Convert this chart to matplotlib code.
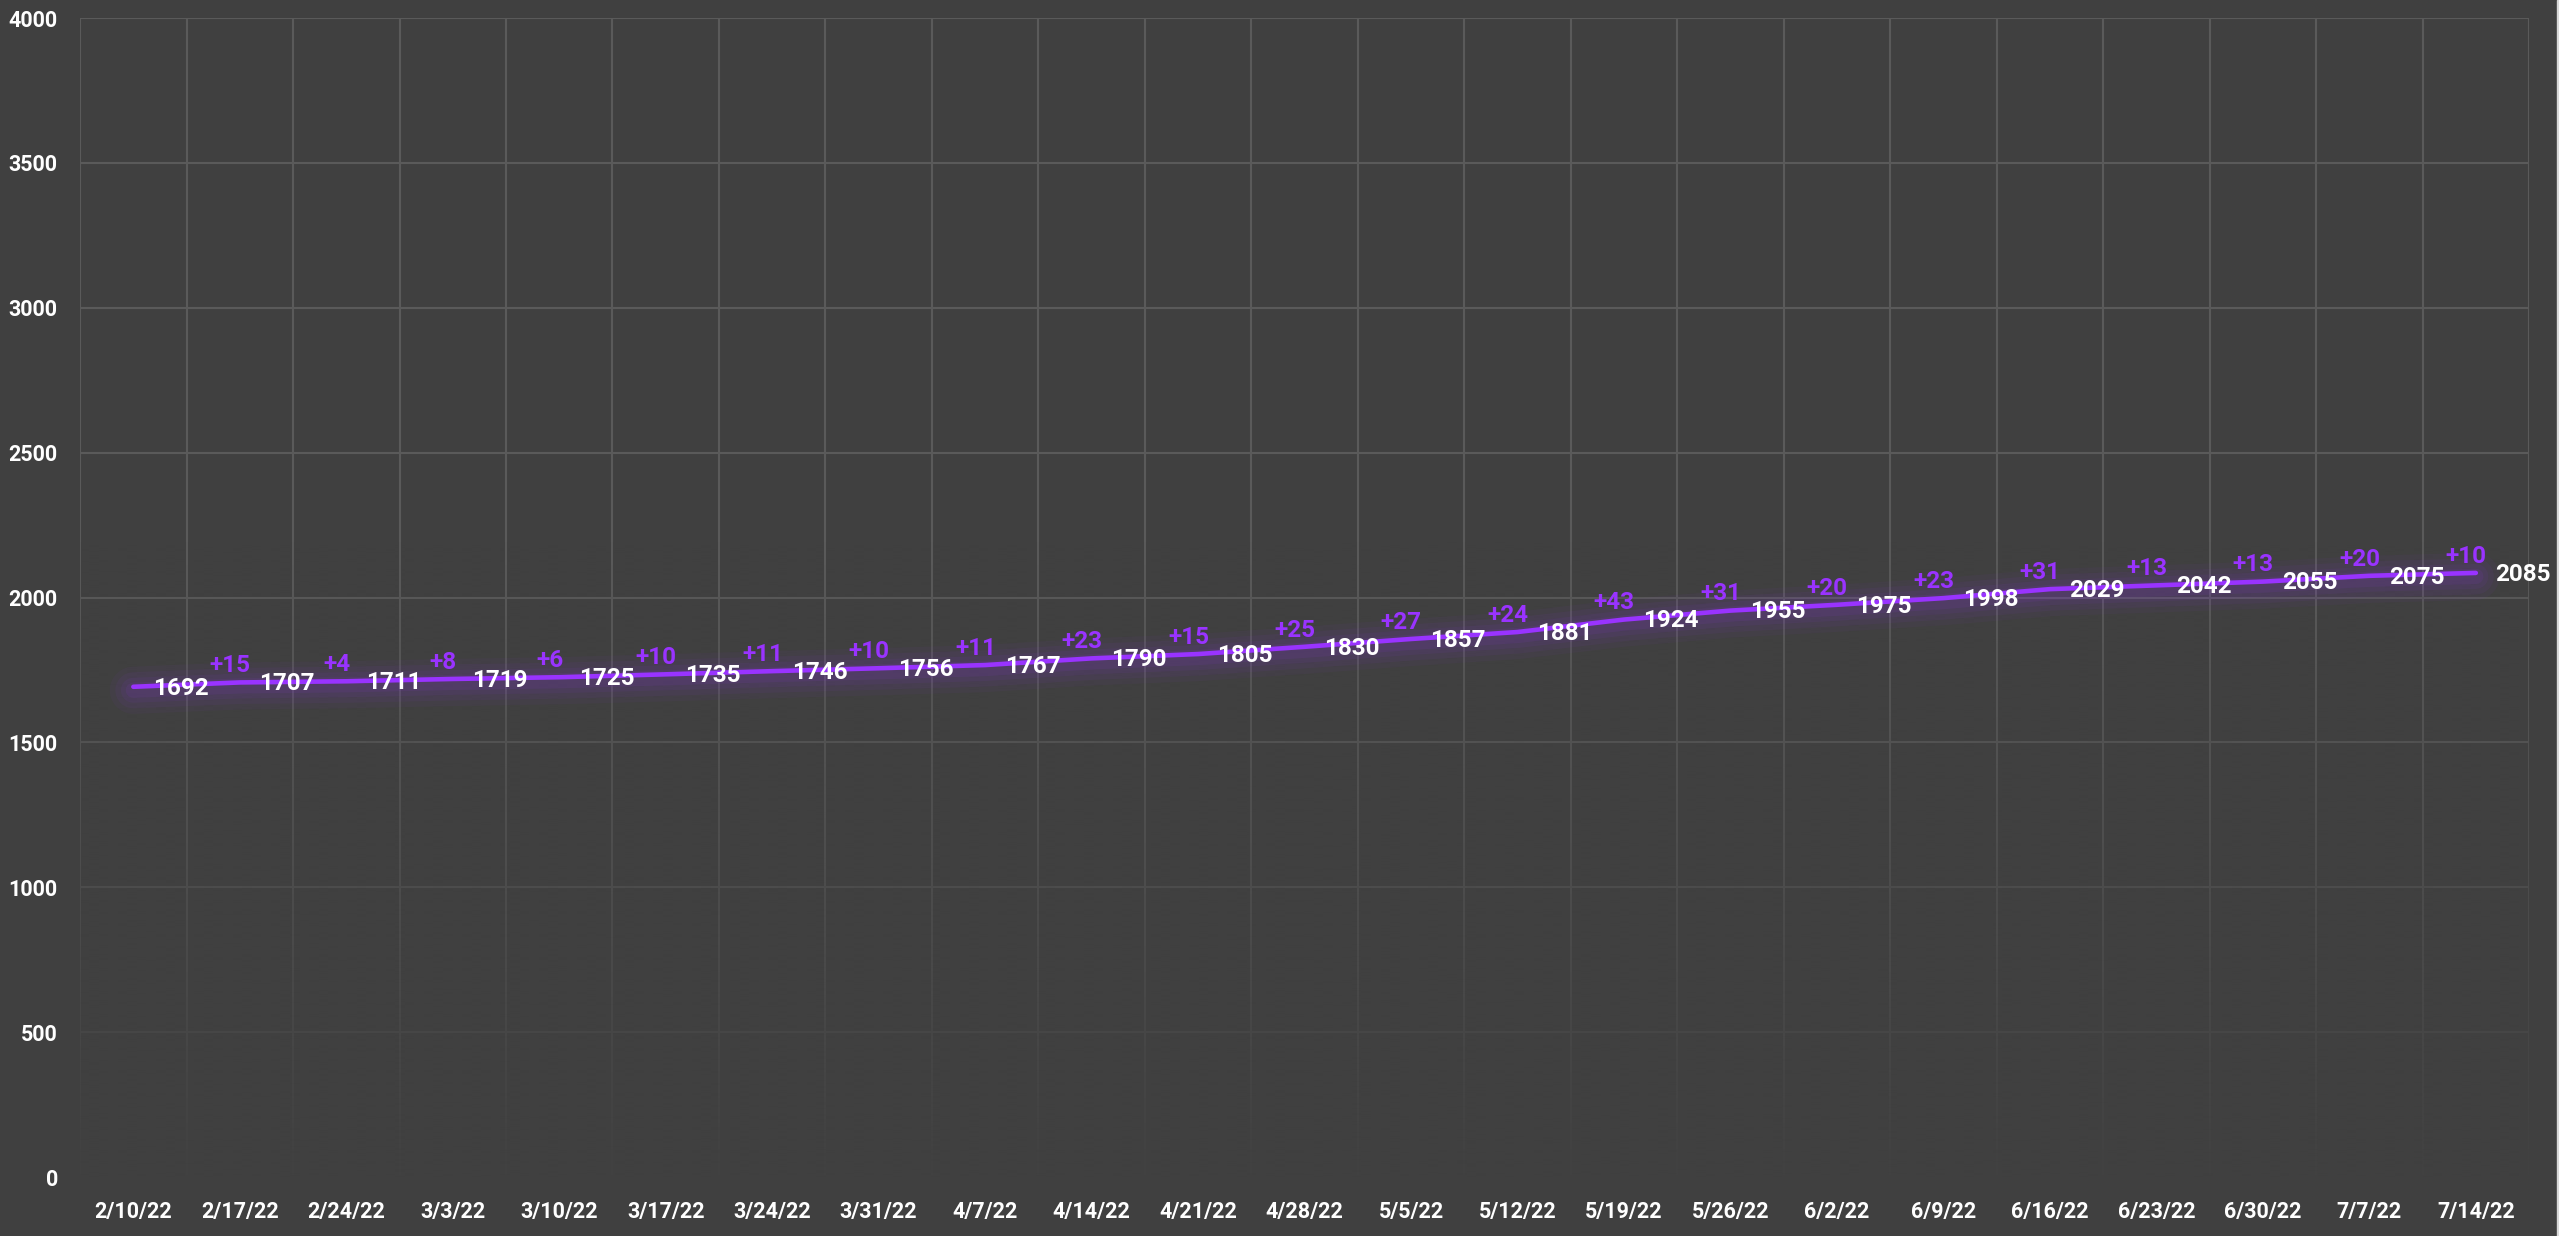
import matplotlib
matplotlib.use("Agg")
import matplotlib.pyplot as plt
from matplotlib.patches import Rectangle
import numpy as np

# data
dates = ["2/10/22", "2/17/22", "2/24/22", "3/3/22", "3/10/22", "3/17/22",
         "3/24/22", "3/31/22", "4/7/22", "4/14/22", "4/21/22", "4/28/22",
         "5/5/22", "5/12/22", "5/19/22", "5/26/22", "6/2/22", "6/9/22",
         "6/16/22", "6/23/22", "6/30/22", "7/7/22", "7/14/22"]
totals = [1692, 1707, 1711, 1719, 1725, 1735, 1746, 1756, 1767, 1790, 1805,
          1830, 1857, 1881, 1924, 1955, 1975, 1998, 2029, 2042, 2055, 2075,
          2085]
# weekly change, shown above each point from the second week on
changes = [15, 4, 8, 6, 10, 11, 10, 11, 23, 15, 25, 27, 24, 43, 31, 20, 23,
           31, 13, 13, 20, 10]
y_ticks = [0, 500, 1000, 1500, 2000, 2500, 3000, 3500, 4000]

bg = "#404040"
grid_col = "#5a5a5a"
purple = "#9933ff"

plt.rcParams["font.family"] = ["Roboto", "DejaVu Sans"]
plt.rcParams["font.weight"] = "bold"

fig = plt.figure(figsize=(25.59, 12.36), dpi=100, facecolor=bg)
ax = fig.add_axes([0.0313, 0.0477, 0.9570, 0.9377])
ax.set_facecolor(bg)

x = np.arange(len(totals))

# gridlines (category boundaries + value ticks)
ax.set_axisbelow(True)
ax.set_xticks(x)
ax.set_xticklabels(dates)
ax.set_xticks(np.arange(-0.5, len(totals), 1.0), minor=True)
ax.set_yticks(y_ticks)
ax.grid(which="minor", axis="x", color=grid_col, linewidth=1.5)
ax.grid(which="major", axis="y", color=grid_col, linewidth=1.5)
ax.grid(which="major", axis="x", visible=False)

# fade the grid towards the bottom, like the original fill
ramp = np.linspace(0, 1, 400)
alpha = np.clip((2200 - ramp * 4000) / 2200, 0, 1) * 0.97
overlay = np.zeros((400, 1, 4))
overlay[..., :3] = matplotlib.colors.to_rgb(bg)
overlay[:, 0, 3] = alpha
ax.imshow(overlay, extent=[-0.5, len(totals) - 0.5, 0, 4000],
          origin="lower", aspect="auto", zorder=1, interpolation="bilinear")

# soft glow under the line
for w, a in [(34, 0.04), (26, 0.05), (18, 0.06), (11, 0.08)]:
    ax.plot(x, np.array(totals) - 12, color=purple, linewidth=w, alpha=a,
            solid_capstyle="round", zorder=2)
ax.plot(x, totals, color=purple, linewidth=3.3, solid_capstyle="round",
        zorder=3)

# value labels to the right of each point
for xi, v in zip(x, totals):
    ax.annotate(str(v), (xi, v), xytext=(14, -1), textcoords="offset points",
                ha="left", va="center", color="white", fontsize=17.5,
                fontweight="bold", zorder=4)

# change labels above each point
for xi, d, v in zip(x[1:], changes, totals[1:]):
    ax.annotate("+%d" % d, (xi, v), xytext=(-7, 12),
                textcoords="offset points", ha="center", va="center",
                color=purple, fontsize=17.5, fontweight="bold", zorder=4)

ax.set_xlim(-0.5, len(totals) - 0.5)
ax.set_ylim(0, 4000)
for s in ax.spines.values():
    s.set_visible(False)
ax.tick_params(axis="both", which="both", length=0, colors="white",
               labelsize=15.5)
ax.tick_params(axis="y", pad=16)
ax.tick_params(axis="x", pad=17)
for lbl in ax.get_xticklabels() + ax.get_yticklabels():
    lbl.set_fontweight("bold")

# thin light strip on the right edge of the image
fig.patches.append(Rectangle((0.9992, 0), 0.0008, 1, transform=fig.transFigure,
                             color="#d9d9d9", zorder=0))

fig.savefig("out.png", dpi=100, facecolor=bg)
